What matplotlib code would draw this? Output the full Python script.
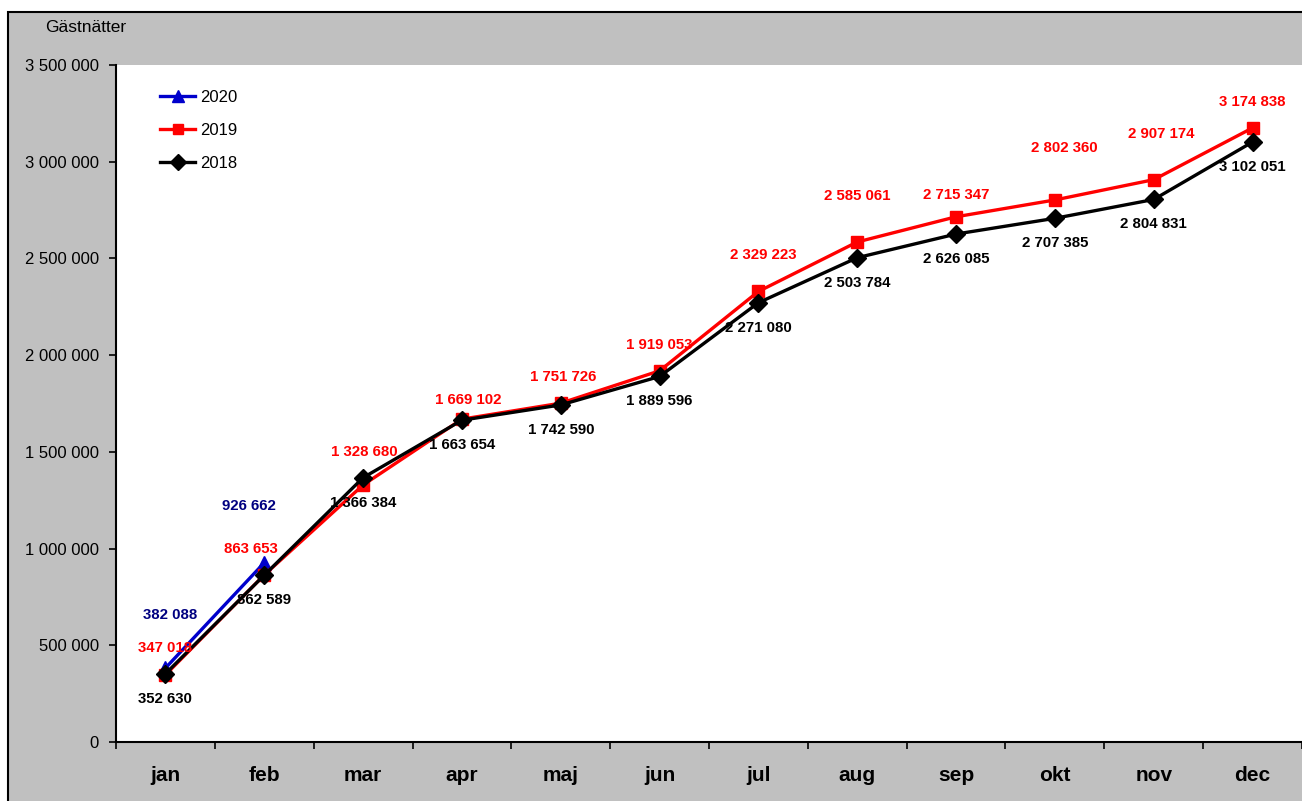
import matplotlib.pyplot as plt
from matplotlib.patches import Rectangle
from matplotlib.ticker import FuncFormatter, FixedLocator

plt.rcParams['font.family'] = ['Liberation Sans', 'DejaVu Sans']

months = ['jan', 'feb', 'mar', 'apr', 'maj', 'jun', 'jul', 'aug', 'sep', 'okt', 'nov', 'dec']
v2020 = [382088, 926662]
v2019 = [347018, 863653, 1328680, 1669102, 1751726, 1919053, 2329223,
         2585061, 2715347, 2802360, 2907174, 3174838]
v2018 = [352630, 862589, 1366384, 1663654, 1742590, 1889596, 2271080,
         2503784, 2626085, 2707385, 2804831, 3102051]

# hand-placed data label offsets (pixels, dx, dy up) as in the original
off2020 = [(5, 53), (-15, 57)]
off2019 = [(0, 27), (-13, 26), (1, 33), (6, 19), (2, 26), (0, 26), (5, 36),
           (0, 46), (0, 22), (9, 52), (7, 46), (0, 26)]
off2018 = [(0, -25)] * 12

def fmt(v, pos=None):
    return '{:,}'.format(int(v)).replace(',', ' ')

W, H = 1302, 801
fig = plt.figure(figsize=(W / 100, H / 100), dpi=100)
fig.patch.set_facecolor('white')
# grey chart area with black frame
fig.patches.append(Rectangle((8 / W, -0.05), 1.1, 1 - 12 / H + 0.05,
                             transform=fig.transFigure, facecolor='#C0C0C0',
                             edgecolor='black', linewidth=1.5, zorder=-5))

ax = fig.add_axes([116 / W, 59 / H, (W - 116) / W, (742 - 65) / H])
ax.set_zorder(1)
ax.set_facecolor('white')

x = list(range(12))
ax.plot(x[:2], v2020, color='#0000CC', lw=2.4, marker='^', ms=10, label='2020', zorder=3)
ax.plot(x, v2019, color='#FF0000', lw=2.4, marker='s', ms=9, label='2019', zorder=4)
ax.plot(x, v2018, color='black', lw=2.4, marker='D', ms=9, label='2018', zorder=5)

lab = dict(ha='center', va='center', fontsize=10.8, fontweight='bold',
           textcoords='offset pixels', zorder=6)
for vals, offs, col in [(v2020, off2020, '#000080'),
                        (v2019, off2019, '#FF0000'),
                        (v2018, off2018, 'black')]:
    for i, v in enumerate(vals):
        ax.annotate(fmt(v), (i, v), xytext=offs[i], color=col, **lab)

ax.set_xlim(-0.5, 11.5)
ax.set_ylim(0, 3500000)
ax.set_yticks(range(0, 3500001, 500000))
ax.yaxis.set_major_formatter(FuncFormatter(fmt))
ax.set_xticks(x)
ax.set_xticklabels(months, fontsize=15, fontweight='bold')
ax.xaxis.set_minor_locator(FixedLocator([i - 0.5 for i in range(13)]))
ax.tick_params(axis='x', which='major', length=0, pad=17)
ax.tick_params(axis='x', which='minor', length=5, width=1.2, direction='out')
ax.tick_params(axis='y', length=5, width=1.2, direction='out', labelsize=12, pad=7.5)

for s in ['top', 'right']:
    ax.spines[s].set_visible(False)
for s in ['left', 'bottom']:
    ax.spines[s].set_linewidth(1.5)

fig.text(45 / W, 1 - 27 / H, 'Gästnätter', fontsize=12.5, va='center', ha='left')

ax.legend(loc='upper left', bbox_to_anchor=(160 / W, 1 - 90 / H),
          bbox_transform=fig.transFigure, frameon=False, fontsize=12,
          borderpad=0, borderaxespad=0, handlelength=2.1, handletextpad=0.3,
          labelspacing=1.07, markerscale=0.85)

fig.savefig('out.png', dpi=100)
